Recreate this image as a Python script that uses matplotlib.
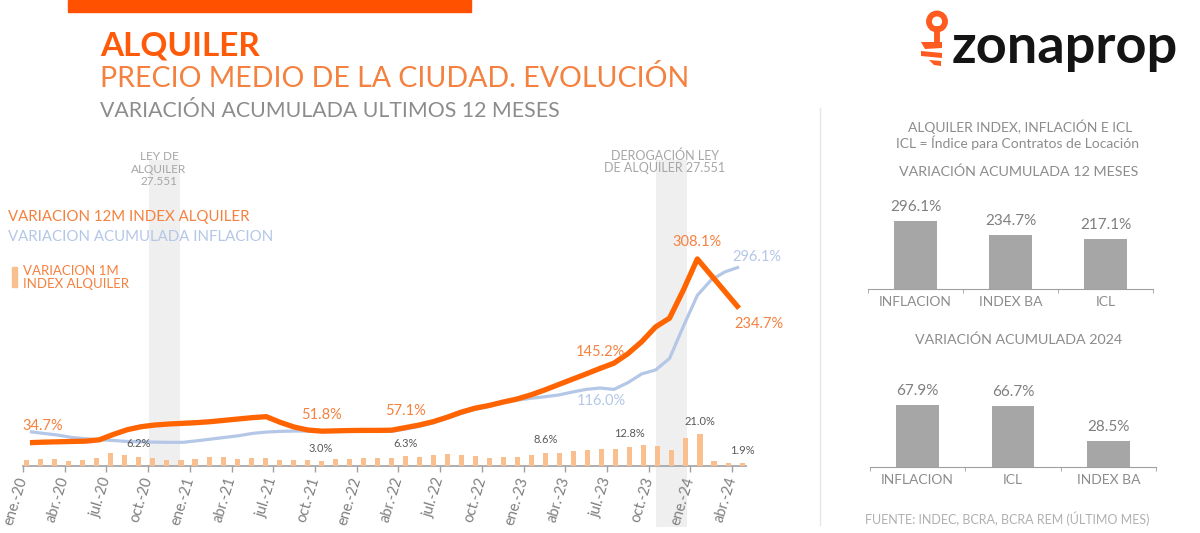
import matplotlib.pyplot as plt
from matplotlib.patches import Rectangle, Circle, Polygon
from matplotlib.lines import Line2D

plt.rcParams['font.family'] = ['Lato', 'DejaVu Sans']

# --- datos ---
nombres = ['ene', 'feb', 'mar', 'abr', 'may', 'jun', 'jul', 'ago', 'sep', 'oct', 'nov', 'dic']
meses = [f'{m}.-{a}' for a in range(20, 25) for m in nombres][:52]

# variacion 12m index alquiler (%)
index_12m = [34.7, 35.5, 36, 36.5, 37, 39, 47, 54, 58.5, 61, 62.5, 63.5,
             64.5, 66, 68, 70, 72, 73.4, 65, 58, 53.5, 51.8, 52.3, 52.8,
             53, 53, 53.3, 57.1, 61, 66, 72.5, 80, 86, 90, 95, 99.5,
             105.6, 113, 121, 129, 137, 145.2, 153, 167, 185, 207, 220, 262,
             308.1, 283.6, 259.2, 234.7]
# variacion acumulada inflacion 12m (%)
inflacion_12m = [51, 48.5, 46, 42.5, 40.5, 39, 38, 36.5, 36, 35.5, 35.2, 35.2,
                 37.5, 40, 42.5, 45, 48.5, 50.5, 51.5, 52, 52, 51.5, 51.5, 51.5,
                 51.5, 51.5, 51.5, 55, 59, 64, 71, 78, 84, 88.5, 94, 98,
                 100.7, 103, 105.6, 110, 114, 116.0, 114, 124, 137, 143, 160, 208,
                 254, 277, 289, 296.1]
# variacion 1m index alquiler (%)
index_1m = [4.0, 4.8, 4.6, 3.3, 4.0, 5.1, 8.8, 7.5, 6.2, 5.3, 4.2, 4.0,
            4.6, 6.0, 6.0, 4.6, 5.1, 5.3, 4.0, 3.8, 4.0, 3.0, 4.4, 4.4,
            5.1, 5.5, 5.3, 6.3, 6.2, 7.3, 8.1, 7.3, 6.6, 5.3, 6.0, 5.8,
            7.1, 8.6, 8.6, 10.1, 10.8, 11.3, 11.5, 12.8, 13.7, 13.2, 10.6, 18.5,
            21.0, 3.3, 1.8, 1.9]

lbl_index = [0, 21, 27, 41, 48]
lbl_barras = [8, 21, 27, 37, 43, 48, 51]

cat_12m = ['INFLACION', 'INDEX BA', 'ICL']
val_12m = [296.1, 234.7, 217.1]
cat_2024 = ['INFLACION', 'ICL', 'INDEX BA']
val_2024 = [67.9, 66.7, 28.5]

NARANJA = '#FF6400'
NARANJA_TXT = '#F5813F'
AZUL = '#B4C7E7'
DURAZNO = '#F9BF8F'
GRIS = '#A6A6A6'

W, H = 1200, 533


def fx(x):
    return x / W


def fy(y):
    return 1 - y / H


fig = plt.figure(figsize=(12, 5.33), dpi=100)

# --- grafico principal (lineas) ---
ax = fig.add_axes([fx(23), fy(466), (746 - 23) / W, (466 - 160) / H])
ax.set_xlim(0, 52)
ax.set_ylim(0, 306 / 0.672)
ax.patch.set_visible(False)

ax.axvspan(9.07, 11.3, color='#EFEFEF', zorder=0, lw=0)
b2 = ax.axvspan(45.5, 47.75, ymin=-0.2, ymax=1, color='#EFEFEF', zorder=0, lw=0)
b2.set_clip_on(False)

xs = [i + 0.5 for i in range(len(meses))]
ax.plot(xs, inflacion_12m, color=AZUL, lw=2.3, solid_capstyle='butt', zorder=2)
ax.plot(xs, index_12m, color=NARANJA, lw=3.8, solid_capstyle='butt', zorder=3)

for i in lbl_index:
    dx = 9 if i == 0 else 0
    ax.annotate(f'{index_12m[i]:.1f}%', (xs[i], index_12m[i]), xytext=(dx, 12),
                textcoords='offset points', ha='center', va='center',
                fontsize=10.5, color=NARANJA_TXT)
ax.annotate(f'{index_12m[-1]:.1f}%', (xs[-1], index_12m[-1]), xytext=(14, -11),
            textcoords='offset points', ha='center', va='center', fontsize=10.5, color=NARANJA_TXT)
ax.annotate(f'{inflacion_12m[-1]:.1f}%', (xs[-1], inflacion_12m[-1]), xytext=(13, 7),
            textcoords='offset points', ha='center', va='center', fontsize=10.5, color=AZUL)
ax.annotate(f'{inflacion_12m[41]:.1f}%', (xs[41], inflacion_12m[41]), xytext=(1, -9.5),
            textcoords='offset points', ha='center', va='center', fontsize=10.5, color=AZUL)

for s in ['top', 'right', 'left']:
    ax.spines[s].set_visible(False)
ax.spines['bottom'].set_color('#A0A0A0')
ax.spines['bottom'].set_linewidth(1.2)
ax.set_yticks([])
ax.set_xticks(range(0, 52, 3))
ax.set_xticklabels(meses[::3], rotation=73, ha='right', va='center',
                   rotation_mode='anchor', fontsize=10.5, color='#7F7F7F')
ax.tick_params(axis='x', length=4, color='#A0A0A0', width=1, pad=4)

# --- barras variacion 1m (eje secundario) ---
axb = fig.add_axes([fx(23), fy(466), (746 - 23) / W, (466 - 160) / H])
axb.set_xlim(-0.262, 51.28)
axb.set_ylim(0, 306 / 1.51)
axb.axis('off')
axb.bar(range(len(index_1m)), index_1m, width=0.36, color=DURAZNO, zorder=2)
for i in lbl_barras:
    axb.annotate(f'{index_1m[i]:.1f}%', (i, index_1m[i]), xytext=(0, 9.4),
                 textcoords='offset points', ha='center', va='center',
                 fontsize=8, color='#595959')

# --- textos de leyenda y anotaciones ---
fig.text(fx(8), fy(217), 'VARIACION 12M INDEX ALQUILER', fontsize=10.8, color=NARANJA_TXT, va='center')
fig.text(fx(8), fy(237), 'VARIACION ACUMULADA INFLACION', fontsize=10.8, color=AZUL, va='center')
fig.patches.append(Rectangle((fx(11.7), fy(287.3)), 5 / W, 20.6 / H, color=DURAZNO,
                             transform=fig.transFigure))
fig.text(fx(22.7), fy(271), 'VARIACION 1M', fontsize=9.5, color=NARANJA_TXT, va='center')
fig.text(fx(22.7), fy(284.5), 'INDEX ALQUILER', fontsize=9.5, color=NARANJA_TXT, va='center')

fig.text(fx(159), fy(169), 'LEY DE\nALQUILER\n27.551', fontsize=8.5, color='#A6A6A6',
         ha='center', va='center', linespacing=1.15)
fig.text(fx(665), fy(161.5), 'DEROGACIÓN LEY\nDE ALQUILER 27.551', fontsize=9, color='#A6A6A6',
         ha='center', va='center', linespacing=1.05)

# --- encabezado ---
fig.patches.append(Rectangle((fx(68), fy(12)), 403 / W, 12 / H, color='#FF5100',
                             transform=fig.transFigure))
fig.text(fx(100), fy(56), 'ALQUILER', fontsize=24, fontweight='bold', color='#FF5A0A', va='baseline')
fig.text(fx(100), fy(87), 'PRECIO MEDIO DE LA CIUDAD. EVOLUCIÓN', fontsize=20.5,
         color='#F4813F', va='baseline')
fig.text(fx(100), fy(117), 'VARIACIÓN ACUMULADA ULTIMOS 12 MESES', fontsize=15.3,
         color='#8C8C8C', va='baseline')

# --- logo ---
fig.text(fx(952), fy(63), 'zonaprop', fontsize=39, fontweight='bold', color='#141414', va='baseline')
axl = fig.add_axes([fx(915), fy(72), 40 / W, 70 / H])
axl.set_xlim(915, 955)
axl.set_ylim(72, 2)
axl.axis('off')
axl.add_patch(Circle((937, 21.5), 8, fill=False, lw=4.2, color='#FF5A1F'))
axl.add_line(Line2D([937, 937], [29, 42], lw=4.2, color='#FF5A1F'))
axl.add_patch(Polygon([(921, 42), (942, 42), (942, 48), (925, 49)], color='#FF5A1F', lw=0))
axl.add_patch(Polygon([(921, 51), (942, 53), (942, 58), (921, 56)], color='#FF5A1F', lw=0))
axl.add_patch(Polygon([(929, 60), (941, 61), (941, 66), (934, 65)], color='#FF5A1F', lw=0))

# --- panel derecho ---
fig.lines.append(Line2D([fx(820), fx(820)], [fy(108), fy(525)], color='#E6E6E6', lw=1,
                        transform=fig.transFigure))
fig.text(fx(1020), fy(127), 'ALQUILER INDEX, INFLACIÓN E ICL', fontsize=10, color='#8C8C8C',
         ha='center', va='center')
fig.text(fx(1017), fy(143), 'ICL = Índice para Contratos de Locación', fontsize=10,
         color='#8C8C8C', ha='center', va='center')
fig.text(fx(1019), fy(172), 'VARIACIÓN ACUMULADA 12 MESES', fontsize=10.3, color='#8C8C8C',
         ha='center', va='center')
fig.text(fx(1019), fy(339.5), 'VARIACIÓN ACUMULADA 2024', fontsize=10.3, color='#8C8C8C',
         ha='center', va='center')
fig.text(fx(1007), fy(518.5), 'FUENTE: INDEC, BCRA, BCRA REM (ÚLTIMO MES)', fontsize=9,
         color='#B0B0B0', ha='center', va='center')


def barras(rect, cats, vals, escala):
    a = fig.add_axes(rect)
    a.bar(range(len(vals)), vals, width=0.45, color=GRIS)
    a.set_xlim(-0.5, len(vals) - 0.5)
    a.set_ylim(0, 100 / escala)
    for s in ['top', 'right', 'left']:
        a.spines[s].set_visible(False)
    a.spines['bottom'].set_color('#A0A0A0')
    a.set_yticks([])
    a.set_xticks(range(len(cats)))
    a.set_xticklabels(cats, fontsize=10, color='#8C8C8C')
    a.set_xticks([k - 0.5 for k in range(len(cats) + 1)], minor=True)
    a.tick_params(axis='x', which='major', length=0, pad=5)
    a.tick_params(axis='x', which='minor', length=3, color='#A0A0A0')
    for k, v in enumerate(vals):
        a.annotate(f'{v:.1f}%', (k, v), xytext=(0, 10), textcoords='offset points',
                   ha='center', va='center', fontsize=11, color='#7F7F7F')
    return a


barras([fx(868), fy(289.3), 285 / W, 100 / H], cat_12m, val_12m, 0.2307)
barras([fx(870), fy(466.7), 286 / W, 100 / H], cat_2024, val_2024, 0.909)

fig.savefig('out.png', dpi=100)
